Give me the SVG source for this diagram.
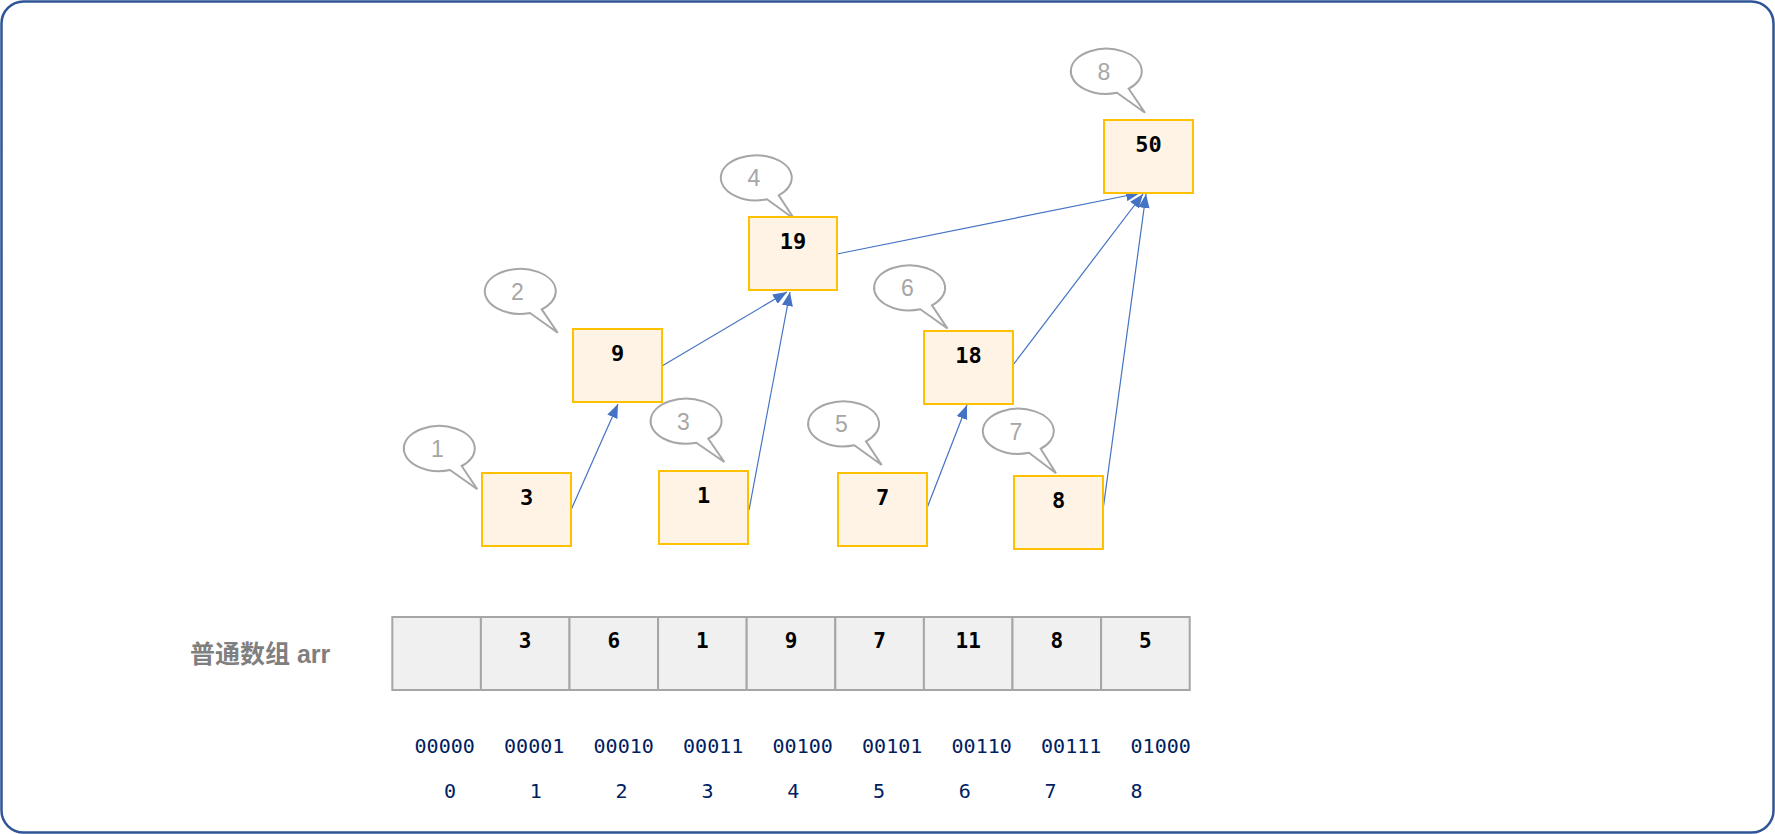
<svg xmlns="http://www.w3.org/2000/svg" width="1775" height="834" viewBox="0 0 1775 834">
<defs>
<style>
.frame{fill:#FFFFFF;stroke:#2F5597;stroke-width:2.5}
.node rect{fill:#FFF3E6;stroke:#FFC000;stroke-width:2}
.node text{font-family:"DejaVu Sans Mono","Liberation Mono",monospace;font-weight:bold;font-size:22px;fill:#000;text-anchor:middle}
.bub path{fill:#FFFFFF;stroke:#A6A6A6;stroke-width:2}
.bub text{font-family:"Liberation Sans",Arial,sans-serif;font-size:23px;fill:#A6A6A6;text-anchor:middle}
.conn line{stroke:#4472C4;stroke-width:1.2;marker-end:url(#arr)}
.cell rect{fill:#F0F0F0;stroke:#A6A6A6;stroke-width:2}
.cell text{font-family:"DejaVu Sans Mono","Liberation Mono",monospace;font-weight:bold;font-size:21px;fill:#000;text-anchor:middle}
.bin{font-family:"DejaVu Sans Mono","Liberation Mono",monospace;font-size:20px;fill:#002060;text-anchor:middle}
.lbl{font-family:"Liberation Sans","Noto Sans CJK SC",sans-serif;font-weight:bold;font-size:25px;fill:#7F7F7F}
</style>
<marker id="arr" markerUnits="userSpaceOnUse" markerWidth="15" markerHeight="11" refX="14" refY="5.5" orient="auto">
<path d="M0,0 L14,5.5 L0,11 Z" fill="#4472C4"/>
</marker>
</defs>
<rect class="frame" x="1.5" y="1.5" width="1772" height="831" rx="22" ry="22"/>

<g id="connectors" class="conn">
<line x1="571" y1="510" x2="618" y2="404"/>
<line x1="662" y1="366" x2="787" y2="292"/>
<line x1="749" y1="510" x2="790" y2="292"/>
<line x1="837" y1="254" x2="1140" y2="193"/>
<line x1="1013" y1="365" x2="1143" y2="194"/>
<line x1="1103" y1="510" x2="1146" y2="194"/>
<line x1="927" y1="508" x2="967" y2="405"/>
</g>

<g id="bubble1" class="bub"><path d="M450,470 A35.5,22.5 0 1 1 461.7,466 L477.3,489.3 Z"/><text x="437.3" y="457.3">1</text></g>
<g id="bubble2" class="bub"><path d="M530,313 A35.5,22.5 0 1 1 541.7,309.3 L557.7,332.7 Z"/><text x="517.3" y="300.3">2</text></g>
<g id="bubble3" class="bub"><path d="M696.3,442.7 A35.5,22.5 0 1 1 708.3,438.7 L724.3,462 Z"/><text x="683.3" y="429.7">3</text></g>
<g id="bubble4" class="bub"><path d="M767,199.3 A35.5,22.5 0 1 1 778.7,195.3 L794.3,219 Z"/><text x="754" y="186.3">4</text></g>
<g id="bubble5" class="bub"><path d="M854.3,445.3 A35.5,22.5 0 1 1 866,441.3 L881.7,465 Z"/><text x="841.3" y="432.3">5</text></g>
<g id="bubble6" class="bub"><path d="M920.3,309.3 A35.5,22.5 0 1 1 932,305.3 L947.5,328.5 Z"/><text x="907.3" y="296.3">6</text></g>
<g id="bubble7" class="bub"><path d="M1029,452.7 A35.5,22.5 0 1 1 1040.7,448.7 L1056,473.3 Z"/><text x="1016" y="439.7">7</text></g>
<g id="bubble8" class="bub"><path d="M1117,92.7 A35.5,22.5 0 1 1 1128.7,88.7 L1145,112.7 Z"/><text x="1104" y="79.7">8</text></g>

<g id="node-3" class="node"><rect x="482" y="473" width="89" height="73"/><text x="526.5" y="505">3</text></g>
<g id="node-9" class="node"><rect x="573" y="329" width="89" height="73"/><text x="617.5" y="361">9</text></g>
<g id="node-1" class="node"><rect x="659" y="471" width="89" height="73"/><text x="703.5" y="503">1</text></g>
<g id="node-19" class="node"><rect x="749" y="217" width="88" height="73"/><text x="793" y="249">19</text></g>
<g id="node-7" class="node"><rect x="838" y="473" width="89" height="73"/><text x="882.5" y="505">7</text></g>
<g id="node-18" class="node"><rect x="924" y="331" width="89" height="73"/><text x="968.5" y="363">18</text></g>
<g id="node-8" class="node"><rect x="1014" y="476" width="89" height="73"/><text x="1058.5" y="508">8</text></g>
<g id="node-50" class="node"><rect x="1104" y="120" width="89" height="73"/><text x="1148.5" y="152">50</text></g>

<text class="lbl" x="190" y="663">普通数组 arr</text>

<g id="array">
<g class="cell"><rect x="392.3" y="617" width="88.6" height="73"/></g>
<g class="cell"><rect x="480.9" y="617" width="88.6" height="73"/><text x="525.2" y="648">3</text></g>
<g class="cell"><rect x="569.5" y="617" width="88.6" height="73"/><text x="613.8" y="648">6</text></g>
<g class="cell"><rect x="658.1" y="617" width="88.6" height="73"/><text x="702.4" y="648">1</text></g>
<g class="cell"><rect x="746.7" y="617" width="88.6" height="73"/><text x="791" y="648">9</text></g>
<g class="cell"><rect x="835.3" y="617" width="88.6" height="73"/><text x="879.6" y="648">7</text></g>
<g class="cell"><rect x="923.9" y="617" width="88.6" height="73"/><text x="968.2" y="648">11</text></g>
<g class="cell"><rect x="1012.5" y="617" width="88.6" height="73"/><text x="1056.8" y="648">8</text></g>
<g class="cell"><rect x="1101.1" y="617" width="88.6" height="73"/><text x="1145.4" y="648">5</text></g>
</g>

<g id="binary">
<text class="bin" x="444.7" y="753">00000</text>
<text class="bin" x="534.2" y="753">00001</text>
<text class="bin" x="623.7" y="753">00010</text>
<text class="bin" x="713.2" y="753">00011</text>
<text class="bin" x="802.7" y="753">00100</text>
<text class="bin" x="892.2" y="753">00101</text>
<text class="bin" x="981.7" y="753">00110</text>
<text class="bin" x="1071.2" y="753">00111</text>
<text class="bin" x="1160.7" y="753">01000</text>
</g>

<g id="index">
<text class="bin" x="450" y="798">0</text>
<text class="bin" x="535.8" y="798">1</text>
<text class="bin" x="621.6" y="798">2</text>
<text class="bin" x="707.4" y="798">3</text>
<text class="bin" x="793.2" y="798">4</text>
<text class="bin" x="879" y="798">5</text>
<text class="bin" x="964.8" y="798">6</text>
<text class="bin" x="1050.6" y="798">7</text>
<text class="bin" x="1136.4" y="798">8</text>
</g>
</svg>
